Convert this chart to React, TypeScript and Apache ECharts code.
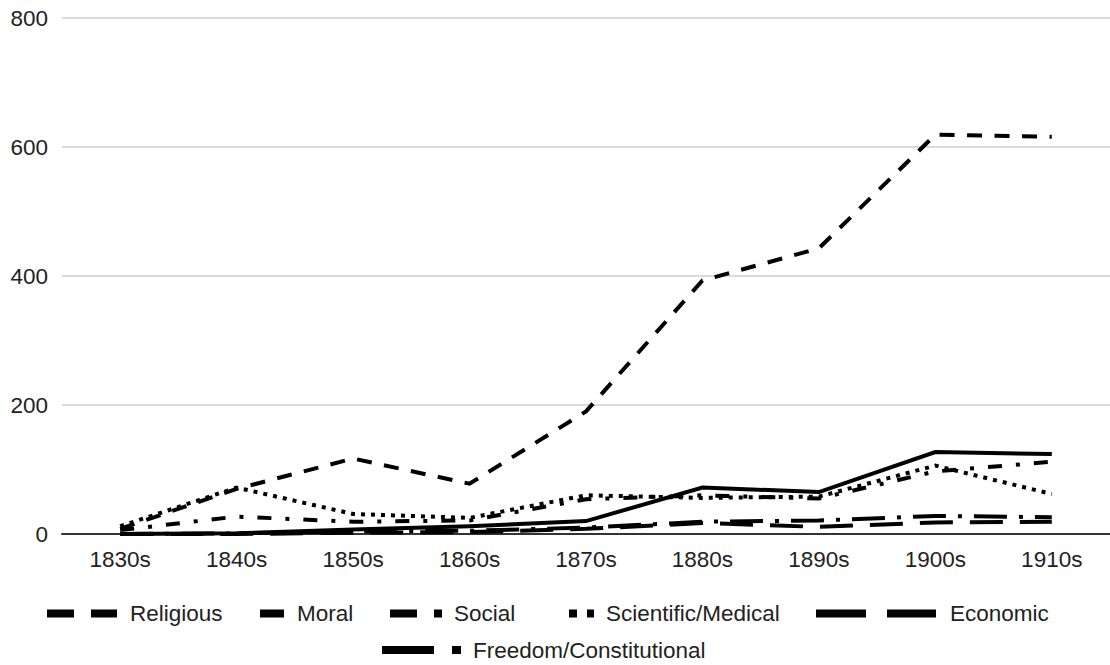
import React, { useEffect, useRef } from "react";
import * as echarts from "echarts";

const categories = ["1830s", "1840s", "1850s", "1860s", "1870s", "1880s", "1890s", "1900s", "1910s"];
const religious = [8, 70, 117, 78, 190, 393, 443, 619, 616];
const moral = [0, 1, 7, 12, 20, 72, 65, 127, 124];
const social = [6, 27, 19, 21, 54, 60, 55, 97, 112];
const scientific = [12, 72, 31, 25, 60, 56, 58, 106, 62];
const economic = [0, 0, 2, 3, 8, 17, 11, 18, 19];
const freedom = [0, 1, 4, 5, 10, 19, 21, 28, 26];
const yTicks = { min: 0, max: 800, interval: 200 };

const FONT = "'Liberation Sans', Arial, sans-serif";
const TXT = "#222";
const FS = 22.5;

export default function App() {
  const ref = useRef<HTMLDivElement>(null);
  useEffect(() => {
    if (!ref.current) return;
    const chart = echarts.init(ref.current, undefined, { renderer: "svg" });

    const seriesDefs = [
      { name: "Religious", data: religious, dash: [15, 12.5] as any, legendDash: [27, 17, 26, 200], left: 43, width: 78, top: 602 },
      { name: "Moral", data: moral, dash: "solid" as any, legendDash: [24, 200], left: 256, width: 32, top: 602 },
      { name: "Social", data: social, dash: [14, 14, 4, 14], legendDash: [27, 17, 8, 200], left: 386, width: 59, top: 602 },
      { name: "Scientific/Medical", data: scientific, dash: [4, 6], legendDash: [8, 10, 7, 200], left: 565, width: 32, top: 602 },
      { name: "Economic", data: economic, dash: [33, 17], legendDash: [50, 21, 49, 200], left: 812, width: 129, top: 602 },
      { name: "Freedom/Constitutional", data: freedom, dash: [33, 12, 4, 12], legendDash: [52, 18, 9, 200], left: 378, width: 86, top: 638.5 },
    ];

    const option: any = {
      animation: false,
      backgroundColor: "#fff",
      textStyle: { fontFamily: FONT },
      grid: { left: 62, right: -5, top: 18, bottom: 131, containLabel: false },
      xAxis: {
        type: "category",
        data: categories,
        boundaryGap: true,
        axisLine: { show: true, lineStyle: { color: "#333", width: 2 } },
        axisTick: { show: false },
        axisLabel: { color: TXT, fontSize: FS, fontFamily: FONT, margin: 14 },
        splitLine: { show: false },
      },
      yAxis: {
        type: "value",
        min: yTicks.min,
        max: yTicks.max,
        interval: yTicks.interval,
        axisLine: { show: false },
        axisTick: { show: false },
        axisLabel: { color: TXT, fontSize: FS, fontFamily: FONT, margin: 14 },
        splitLine: { show: true, lineStyle: { color: "#cfcfcf", width: 1.5 } },
      },
      legend: seriesDefs.map((s) => ({
        show: true,
        orient: "horizontal",
        left: s.left,
        top: s.top,
        padding: 0,
        itemGap: 0,
        itemWidth: s.width,
        itemHeight: 8,
        selectedMode: false,
        textStyle: { color: TXT, fontSize: FS, fontFamily: FONT },
        data: [
          {
            name: s.name,
            lineStyle: { width: 8, type: s.legendDash, cap: "butt", color: "#000" },
            itemStyle: { opacity: 0 },
          },
        ],
      })),
      series: seriesDefs.map((s) => ({
        name: s.name,
        type: "line",
        data: s.data,
        symbol: "none",
        showSymbol: false,
        smooth: false,
        itemStyle: { color: "#000" },
        lineStyle: { color: "#000", width: 4, type: s.dash, cap: "butt", join: "miter" },
        emphasis: { disabled: true },
      })),
    };

    chart.setOption(option);
    return () => chart.dispose();
  }, []);

  return (
    <div
      ref={ref}
      style={{ position: "fixed", left: 0, top: 0, width: 1110, height: 665, background: "#fff" }}
    />
  );
}
